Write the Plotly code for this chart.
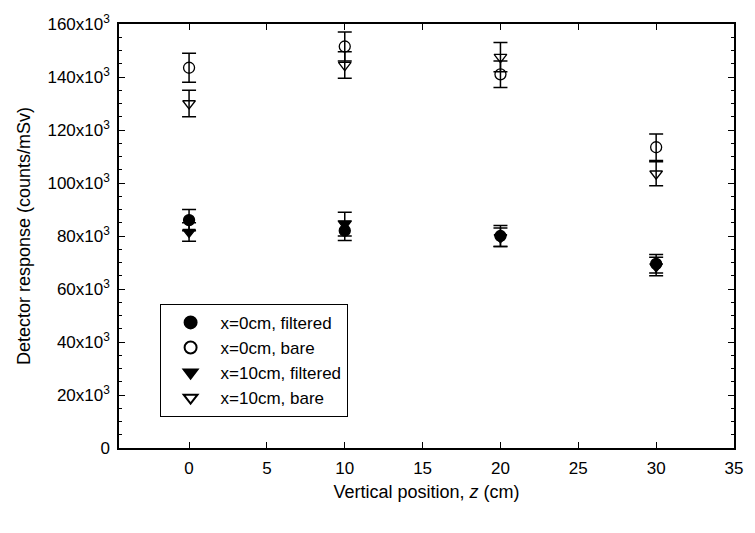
import plotly.graph_objects as go

z = [0, 10, 20, 30]

x0_filtered = [86000, 82000, 80000, 69500]
x0_filtered_err = [4000, 3700, 4000, 3500]
x0_bare = [143500, 151500, 141000, 113500]
x0_bare_err = [5500, 5500, 5000, 5000]
x10_filtered = [81500, 84500, 79500, 68500]
x10_filtered_err = [3500, 4500, 3500, 3500]
x10_bare = [130000, 144500, 147500, 103500]
x10_bare_err = [5000, 5000, 5500, 4500]

names = ["x=0cm, filtered", "x=0cm, bare", "x=10cm, filtered", "x=10cm, bare"]
series = [x0_filtered, x0_bare, x10_filtered, x10_bare]
errors = [x0_filtered_err, x0_bare_err, x10_filtered_err, x10_bare_err]
symbols = ["circle", "circle-open", "triangle-down", "triangle-down-open"]

y_tickvals = [0, 20000, 40000, 60000, 80000, 100000, 120000, 140000, 160000]
y_ticktext = ["0"] + [f"{v // 1000}x10<sup>3</sup>" for v in y_tickvals[1:]]
x_tickvals = [0, 5, 10, 15, 20, 25, 30, 35]

fig = go.Figure()
for name, ys, es, sym in zip(names, series, errors, symbols):
    fig.add_trace(go.Scatter(
        x=z, y=ys, name=name, mode="markers",
        marker=dict(symbol=sym, size=11, color="black",
                    line=dict(color="black", width=1.3)),
        error_y=dict(type="data", array=es, visible=True,
                     color="black", thickness=1.5, width=7),
    ))

font = "Liberation Sans, Arial, sans-serif"
fig.update_layout(
    width=755, height=533,
    margin=dict(l=119, r=14, t=13, b=85),
    paper_bgcolor="white", plot_bgcolor="white",
    font=dict(family=font, size=17, color="black"),
    showlegend=True,
    legend=dict(
        x=0.066, y=0.34, xanchor="left", yanchor="top",
        bordercolor="black", borderwidth=1, bgcolor="white",
        font=dict(size=17, family=font), itemsizing="constant",
        itemwidth=50, tracegroupgap=0,
    ),
    xaxis=dict(
        range=[-4.5, 35], tickvals=x_tickvals,
        ticks="inside", ticklen=6, tickwidth=1, tickcolor="black",
        showline=True, linecolor="black", linewidth=1.5, mirror="ticks",
        showgrid=False, zeroline=False, ticklabelstandoff=4,
        title=dict(text="Vertical position, <i>z</i> (cm)", font=dict(size=18), standoff=8),
        tickfont=dict(size=17),
    ),
    yaxis=dict(
        range=[0, 160000], tickvals=y_tickvals, ticktext=y_ticktext,
        ticks="inside", ticklen=6, tickwidth=1, tickcolor="black",
        minor=dict(dtick=5000, ticks="inside", ticklen=3, tickcolor="black"),
        showline=True, linecolor="black", linewidth=1.5, mirror="ticks",
        showgrid=False, zeroline=False, ticklabelstandoff=4,
        title=dict(text="Detector response (counts/mSv)", font=dict(size=18), standoff=12),
        tickfont=dict(size=17),
    ),
)

fig.write_html("out.html")
